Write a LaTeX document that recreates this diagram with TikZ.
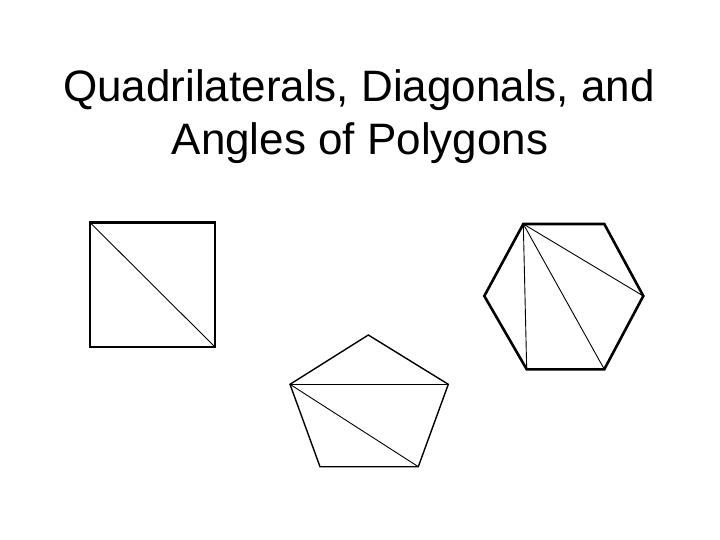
\documentclass[tikz,border=0pt]{standalone}
\usepackage{fontspec}
\setmainfont{Liberation Sans}
\begin{document}
\begin{tikzpicture}[x=1pt,y=-1pt,
  titletext/.style={font=\fontsize{44}{53}\selectfont, anchor=base, inner sep=0pt},
  thickedge/.style={line width=2.6pt, line join=miter},
  midedge/.style={line width=1.4pt, line join=miter},
  diag/.style={line width=0.9pt}]
\useasboundingbox[fill=white] (0,0) rectangle (720,540);
\node[titletext] (t1) at (359,101.5) {Quadrilaterals, Diagonals, and};
\node[titletext] (t2) at (360,155) {Angles of Polygons};
% square
\coordinate (s1) at (90,222.5);
\coordinate (s2) at (215,222.5);
\coordinate (s3) at (215,347);
\coordinate (s4) at (90,347);
\draw[thickedge] (s1) -- (s2) -- (s3) -- (s4) -- cycle;
\draw[diag] (s1) -- (s3);
% pentagon
\coordinate (p1) at (368.3,335);
\coordinate (p2) at (448.3,384.3);
\coordinate (p3) at (418.3,466.7);
\coordinate (p4) at (320,466.7);
\coordinate (p5) at (290,384.3);
\draw[midedge] (p1) -- (p2) -- (p3) -- (p4) -- (p5) -- cycle;
\draw[midedge] (p5) -- (p2);
\draw[diag] (p5) -- (p3);
% hexagon
\coordinate (h1) at (523.3,224);
\coordinate (h2) at (604.3,224);
\coordinate (h3) at (643.3,296);
\coordinate (h4) at (604.3,369.3);
\coordinate (h5) at (526.7,369.3);
\coordinate (h6) at (484.3,296);
\draw[thickedge] (h1) -- (h2) -- (h3) -- (h4) -- (h5) -- (h6) -- cycle;
\draw[diag] (h1) -- (h5);
\draw[diag] (h1) -- (h4);
\draw[diag] (h1) -- (h3);
\end{tikzpicture}
\end{document}
